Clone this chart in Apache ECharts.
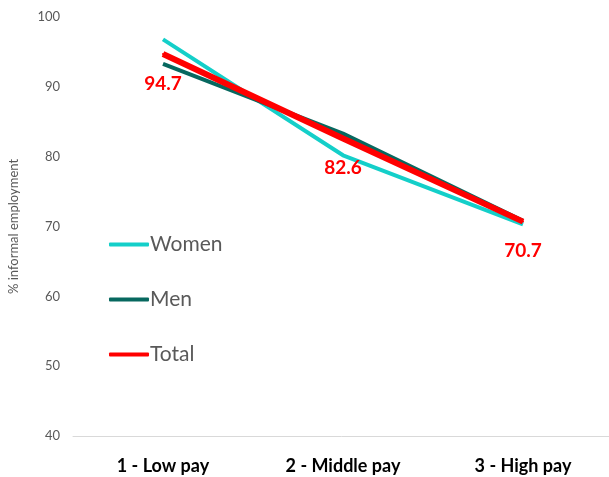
<!DOCTYPE html>
<html lang="en">
<head>
    <meta charset="UTF-8">
    <title>Informal employment by pay level</title>
    <script src="https://cdn.jsdelivr.net/npm/echarts/dist/echarts.min.js"></script>
    <style>
        html, body { margin: 0; padding: 0; background: #fff; }
        #chart { width: 609px; height: 477px; }
    </style>
</head>
<body>
    <div id="chart"></div>
    <script>
        var categories = ['1 - Low pay', '2 - Middle pay', '3 - High pay'];
        var women = [96.8, 80.2, 70.3];
        var men = [93.3, 83.3, 70.8];
        var total = [94.7, 82.6, 70.7];

        var chart = echarts.init(document.getElementById('chart'));

        var option = {
            textStyle: { fontFamily: 'Lato' },
            legend: {
                orient: 'vertical',
                left: 104,
                top: 229,
                itemGap: 34,
                itemWidth: 40,
                itemHeight: 4,
                icon: 'roundRect',
                textStyle: { fontSize: 21, color: '#595959', fontFamily: 'Lato', padding: [0, 0, 0, -4] },
                data: ['Women', 'Men', 'Total']
            },
            grid: { left: 73, top: 17, bottom: 41, width: 540, outerBoundsMode: 'none' },
            xAxis: {
                type: 'category',
                data: categories,
                axisLine: { lineStyle: { color: '#d9d9d9' } },
                axisTick: { show: false },
                axisLabel: { fontSize: 18, fontWeight: 'bold', color: '#000', margin: 21 }
            },
            yAxis: {
                type: 'value',
                min: 40,
                max: 100,
                interval: 10,
                name: '% informal employment',
                nameLocation: 'middle',
                nameGap: 53,
                nameTextStyle: { fontSize: 13, color: '#595959' },
                splitLine: { show: false },
                axisLabel: { fontSize: 13, color: '#595959', margin: 13 }
            },
            series: [
                {
                    name: 'Women',
                    type: 'line',
                    data: women,
                    showSymbol: false,
                    lineStyle: { width: 4, color: '#14cfc9' },
                    itemStyle: { color: '#14cfc9' }
                },
                {
                    name: 'Men',
                    type: 'line',
                    data: men,
                    showSymbol: false,
                    lineStyle: { width: 4, color: '#07685f' },
                    itemStyle: { color: '#07685f' }
                },
                {
                    name: 'Total',
                    type: 'line',
                    data: total,
                    symbol: 'circle',
                    symbolSize: 2,
                    lineStyle: { width: 6, color: '#ff0000' },
                    itemStyle: { color: '#ff0000' },
                    label: {
                        show: true,
                        position: 'bottom',
                        distance: 19,
                        fontSize: 19,
                        fontWeight: 'bold',
                        color: '#ff0000',
                        formatter: function (p) { return p.value.toFixed(1); }
                    }
                }
            ]
        };

        chart.setOption(option);
    </script>
</body>
</html>
